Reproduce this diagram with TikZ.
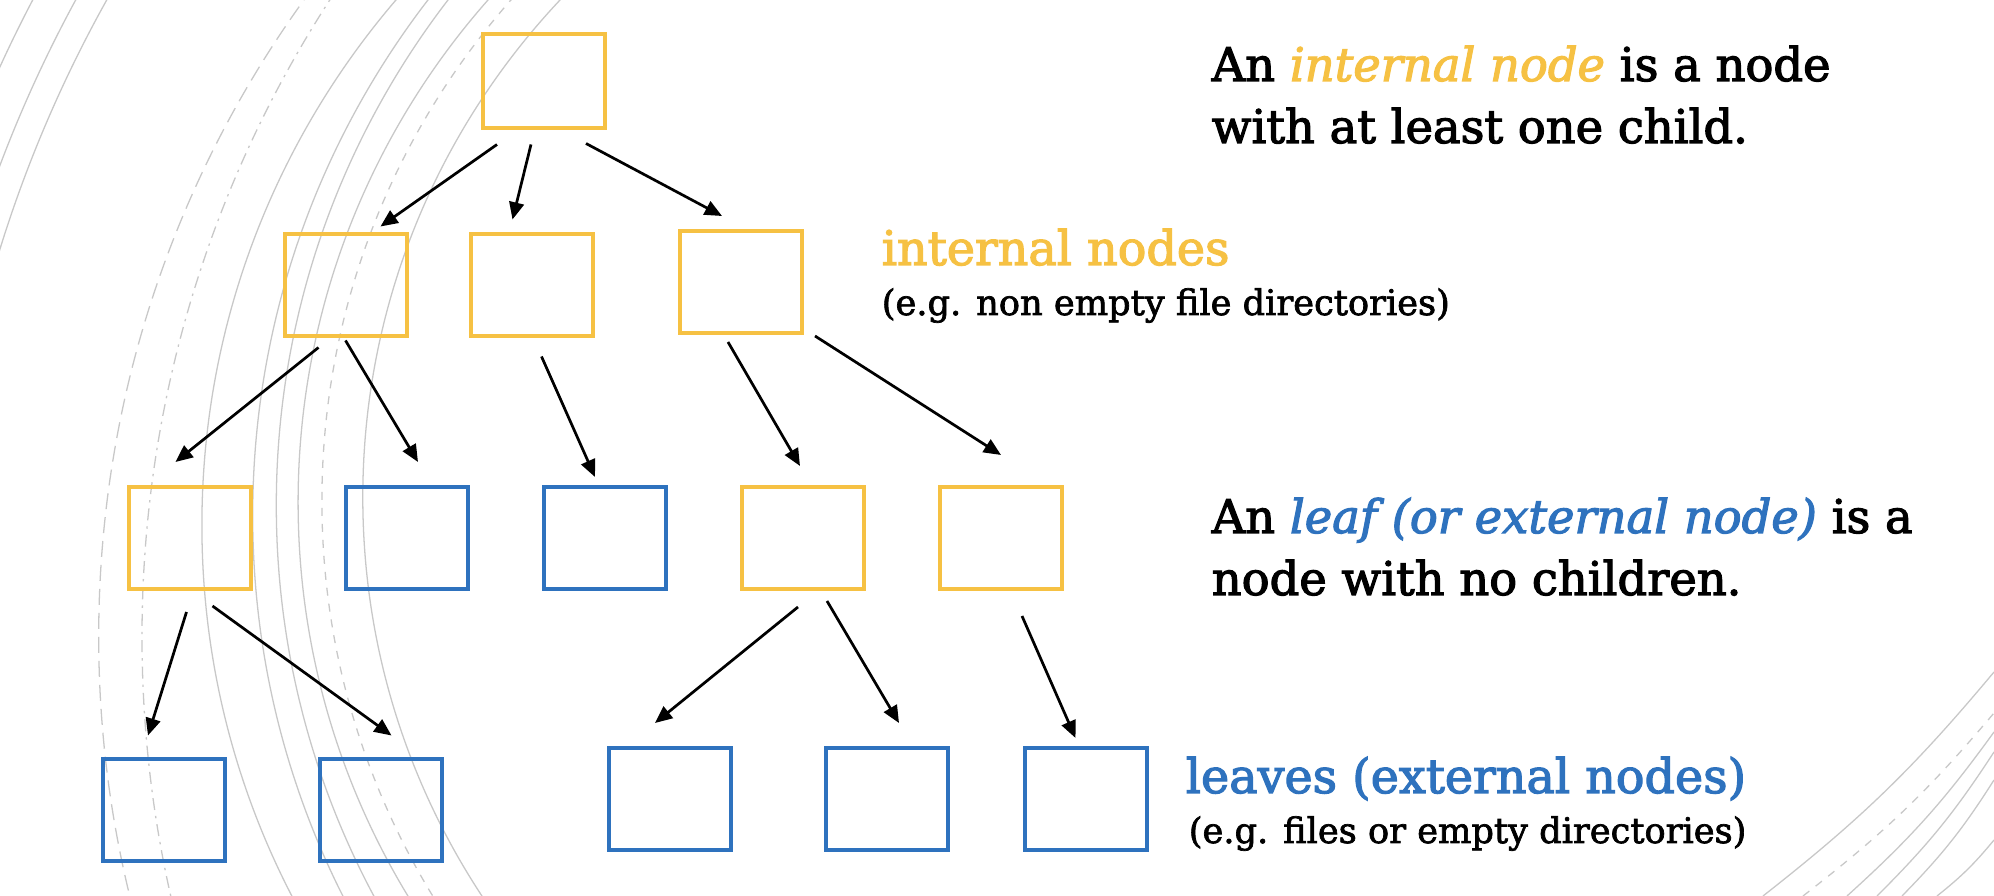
\documentclass[tikz,border=0pt]{standalone}
\usepackage{fontspec}
\setmainfont{DejaVu Serif}
\usepackage{xcolor}
\usepackage{tikz}
\usetikzlibrary{arrows.meta,positioning,calc}

\definecolor{nodeyellow}{RGB}{246,193,67}
\definecolor{leafblue}{RGB}{46,114,190}
\definecolor{arcgray}{RGB}{200,200,200}

\tikzset{
  inner/.style={draw=nodeyellow, line width=1pt, minimum width=30.5pt, minimum height=25.5pt, inner sep=0pt},
  leaf/.style={inner, draw=leafblue},
  arr/.style={-{Triangle[length=4.3pt,width=3.7pt]}, line width=0.68pt},
  bg/.style={arcgray, line width=0.32pt},
  bigtxt/.style={font=\fontsize{11.9}{15.5}\selectfont\addfontfeature{FakeBold=2.5}, inner sep=0pt, anchor=base west, align=left},
  deftxt/.style={bigtxt, font=\fontsize{11.6}{15.5}\selectfont\addfontfeature{FakeBold=2.5}},
  smalltxt/.style={font=\fontsize{8.8}{11}\selectfont\addfontfeature{FakeBold=2}, inner sep=0pt, anchor=base west}
}

\begin{document}
\begin{tikzpicture}[x=0.25pt,y=-0.25pt]
  \useasboundingbox (0,0) rectangle (1994,896);
  \fill[white] (0,0) rectangle (1994,896);

  % background arcs
  \begin{scope}
    \clip (0,0) rectangle (700,896);
    \draw[bg, dash pattern=on 4pt off 2pt] (1188.5,636.7) circle (1089.8);
    \draw[bg, dash pattern=on 3pt off 1.5pt on 0.6pt off 1.5pt] (1314.8,636.8) circle (1172.8);
    \draw[bg] (1009.6,525.2) circle (807.7);
    \draw[bg] (1098.6,515.6) circle (845.9);
    \draw[bg] (1105.8,505.4) circle (829.5);
    \draw[bg] (1057.6,502.4) circle (759.5);
    \draw[bg, dash pattern=on 2pt off 2pt] (1080.3,501) circle (758.4);
    \draw[bg] (1088.6,497.4) circle (725.8);
    \draw[bg] (1250,637) circle (1308.5);
    \draw[bg] (1250,637) circle (1335.7);
    \draw[bg] (1250,637) circle (1373.6);
  \end{scope}
  \begin{scope}
    \clip (1500,600) rectangle (1994,896);
    \draw[bg] (1763,896) to[bend right=6] (1994,672);
    \draw[bg, dash pattern=on 2pt off 2pt] (1803,896) to[bend right=6] (1994,713);
    \draw[bg] (1847,896) to[bend right=6] (1994,732);
    \draw[bg] (1877,896) to[bend right=6] (1994,752);
    \draw[bg] (1902,896) to[bend right=6] (1994,780);
    \draw[bg] (1937,896) to[bend right=6] (1994,840);
  \end{scope}

  % tree
  \node[inner, minimum height=23.5pt] (r) at (544,81.5) {};
  \node[inner] (a1) at (345.5,285.5) {};
  \node[inner] (a2) at (531.5,285.5) {};
  \node[inner] (a3) at (741,282) {};
  \node[inner] (b1) at (189.5,538) {};
  \node[leaf]  (b2) at (407,538) {};
  \node[leaf]  (b3) at (605,538) {};
  \node[inner] (b4) at (803,538) {};
  \node[inner] (b5) at (1001,538) {};
  \node[leaf]  (c1) at (164,810.5) {};
  \node[leaf]  (c2) at (380.5,810.5) {};
  \node[leaf]  (c3) at (670,799) {};
  \node[leaf]  (c4) at (887,799) {};
  \node[leaf]  (c5) at (1085.5,799) {};

  \draw[arr] ([shift={(-47,14)}]r.south) -- ([shift={(35,-6)}]a1.north);
  \draw[arr] ([shift={(-13,14)}]r.south) -- ([shift={(-19,-13)}]a2.north);
  \draw[arr] ([shift={(42,13)}]r.south) -- ([shift={(-19,-13)}]a3.north);
  \draw[arr] ([shift={(-27,9)}]a1.south) -- ([shift={(-14,-23)}]b1.north);
  \draw[arr] ([shift={(0,2)}]a1.south) -- ([shift={(11,-23)}]b2.north);
  \draw[arr] ([shift={(10,18)}]a2.south) -- ([shift={(-10,-8)}]b3.north);
  \draw[arr] ([shift={(-13,7)}]a3.south) -- ([shift={(-3,-19)}]b4.north);
  \draw[arr] ([shift={(74,1)}]a3.south) -- ([shift={(0,-30)}]b5.north);
  \draw[arr] ([shift={(-3,21)}]b1.south) -- ([shift={(-16,-22)}]c1.north);
  \draw[arr] ([shift={(23,15)}]b1.south) -- ([shift={(11,-22)}]c2.north);
  \draw[arr] ([shift={(-5,16)}]b4.south) -- ([shift={(-15,-23)}]c3.north);
  \draw[arr] ([shift={(24,10)}]b4.south) -- ([shift={(12,-23)}]c4.north);
  \draw[arr] ([shift={(21,25)}]b5.south) -- ([shift={(-10,-8)}]c5.north);

  % labels
  \node[bigtxt, text=nodeyellow] (intlbl) at (881,265) {internal nodes};
  \node[smalltxt] (intex) at (881,315) {(e.g. non empty file directories)};
  \node[bigtxt, text=leafblue] (leaflbl) at (1185,793) {leaves (external nodes)};
  \node[smalltxt] (leafex) at (1188,843) {(e.g. files or empty directories)};

  % base of a two-line node is its last line
  \node[deftxt] (intdef) at (1211,143) {An \textcolor{nodeyellow}{\itshape internal node} is a node\\with at least one child.};
  \node[deftxt] (leafdef) at (1211,595) {An \textcolor{leafblue}{\itshape leaf (or external node)} is a\\node with no children.};
\end{tikzpicture}
\end{document}
